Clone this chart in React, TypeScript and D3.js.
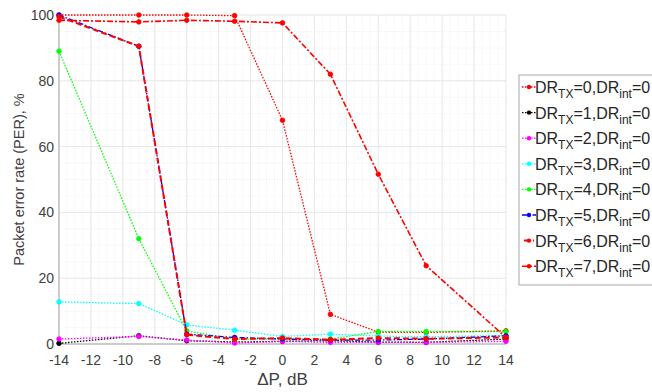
import React from "react"
import * as d3 from "d3"

const X_VALUES = [-14, -9, -6, -3, 0, 3, 6, 9, 14]
const X_TICKS = [-14, -12, -10, -8, -6, -4, -2, 0, 2, 4, 6, 8, 10, 12, 14]
const Y_TICKS = [0, 20, 40, 60, 80, 100]

const DR0 = [100, 100, 100, 99.8, 68, 9, 3.6, 3.5, 4]
const DR1 = [0.2, 2.5, 1, 0.6, 0.8, 1, 0.6, 0.5, 1.5]
const DR2 = [1.5, 2.3, 1.2, 0.3, 0.8, 0.5, 0.5, 0.5, 0.8]
const DR3 = [12.8, 12.3, 5.8, 4.2, 2.3, 3, 2.4, 2.2, 2.6]
const DR4 = [89, 32, 4, 1.5, 1.5, 1.5, 3.8, 3.8, 3.8]
const DR5 = [100, 90.5, 3, 2, 1.5, 1.2, 1.2, 1.5, 2.5]
const DR6 = [99.5, 90.5, 2.8, 1.5, 1.8, 1.3, 1.8, 1.6, 2]
const DR7 = [98.4, 97.9, 98.4, 98.1, 97.6, 82, 51.6, 23.8, 2]

const SERIES = [
  { tx: 0, values: DR0, color: "#ff0000", dash: "1.5,1.5", width: 1.3, legLen: 16 },
  { tx: 1, values: DR1, color: "#000000", dash: "1.5,1.5", width: 1.3, legLen: 16 },
  { tx: 2, values: DR2, color: "#ff00ff", dash: "1.5,1.5", width: 1.3, legLen: 16 },
  { tx: 3, values: DR3, color: "#00ffff", dash: "1.5,1.5", width: 1.3, legLen: 16 },
  { tx: 4, values: DR4, color: "#00ff00", dash: "1.5,1.5", width: 1.3, legLen: 16 },
  { tx: 5, values: DR5, color: "#0000ff", dash: "5,2,1.5,2", width: 1.3, legLen: 16 },
  { tx: 6, values: DR6, color: "#ff0000", dash: "6,3", width: 2, legLen: 12 },
  { tx: 7, values: DR7, color: "#ff0000", dash: "6,2,2,2", width: 1.6, legLen: 16 },
]

const M = { left: 59, right: 146, top: 15, bottom: 48 }
const W = 652
const H = 392

export default function App() {
  const x = d3.scaleLinear().domain([-14, 14]).range([M.left, W - M.right])
  const y = d3.scaleLinear().domain([0, 100]).range([H - M.bottom, M.top])
  const minorX = d3.range(-14, 14.01, 0.5)
  const minorY = d3.range(0, 100.01, 5)
  const font = "Helvetica, Arial, 'Liberation Sans', sans-serif"

  const line = d3
    .line<number>()
    .x((_, i) => x(X_VALUES[i]))
    .y((d) => y(d))

  const legX = 519
  const legY = 75
  const legRow = 25.6

  return (
    <svg width={W} height={H} style={{ position: "absolute", left: 0, top: 0, background: "#fff" }} fontFamily={font}>
      {/* minor grid */}
      {minorX.map((v) => (
        <line key={"mx" + v} x1={x(v)} x2={x(v)} y1={y(0)} y2={y(100)} stroke="#e6e6e6" strokeWidth={0.6} strokeDasharray="1,1.5" />
      ))}
      {minorY.map((v) => (
        <line key={"my" + v} y1={y(v)} y2={y(v)} x1={x(-14)} x2={x(14)} stroke="#e6e6e6" strokeWidth={0.6} strokeDasharray="1,1.5" />
      ))}
      {/* major grid */}
      {X_TICKS.map((v) => (
        <line key={"gx" + v} x1={x(v)} x2={x(v)} y1={y(0)} y2={y(100)} stroke="#e8e8e8" strokeWidth={1} />
      ))}
      {Y_TICKS.map((v) => (
        <line key={"gy" + v} y1={y(v)} y2={y(v)} x1={x(-14)} x2={x(14)} stroke="#e8e8e8" strokeWidth={1} />
      ))}
      {/* axes */}
      <line x1={x(-14)} x2={x(-14)} y1={y(0)} y2={y(100)} stroke="#a6a6a6" strokeWidth={1} />
      <line x1={x(-14)} x2={x(14)} y1={y(0)} y2={y(0)} stroke="#a6a6a6" strokeWidth={1} />
      {X_TICKS.map((v) => (
        <text key={"tx" + v} x={x(v)} y={y(0) + 21} textAnchor="middle" fontSize={14} fill="#404040">
          {v < 0 ? "-" + Math.abs(v) : v}
        </text>
      ))}
      {Y_TICKS.map((v) => (
        <text key={"ty" + v} x={x(-14) - 5} y={y(v) + 5} textAnchor="end" fontSize={14} fill="#404040">
          {v}
        </text>
      ))}
      <text x={(x(-14) + x(14)) / 2} y={385} textAnchor="middle" fontSize={17} fill="#404040">
        ΔP, dB
      </text>
      <text transform={`translate(24,${(y(0) + y(100)) / 2}) rotate(-90)`} textAnchor="middle" fontSize={14.5} fill="#404040">
        Packet error rate (PER), %
      </text>
      {/* series */}
      {SERIES.map((s) => (
        <g key={"s" + s.tx}>
          <path d={line(s.values) ?? ""} fill="none" stroke={s.color} strokeWidth={s.width} strokeDasharray={s.dash} />
          {s.values.map((v, i) => (
            <circle key={i} cx={x(X_VALUES[i])} cy={y(v)} r={2.3} fill={s.color} stroke={s.color} strokeWidth={0.8} />
          ))}
        </g>
      ))}
      {/* legend */}
      <rect x={legX} y={legY} width={W - legX + 10} height={210} fill="#fff" stroke="#a6a6a6" strokeWidth={1} />
      {SERIES.map((s, i) => {
        const cy = legY + 12 + i * legRow
        const cx = legX + 10
        return (
          <g key={"l" + s.tx}>
            <line x1={cx - s.legLen / 2 + 1} x2={cx + s.legLen / 2 - 1} y1={cy} y2={cy} stroke={s.color} strokeWidth={s.width} strokeDasharray={s.dash} />
            <circle cx={cx} cy={cy} r={2.2} fill={s.color} />
            <text x={legX + 16} y={cy + 6} fontSize={16} fill="#262626">
              DR<tspan fontSize={12} dy={5}>TX</tspan>
              <tspan dy={-5}>={s.tx},DR</tspan>
              <tspan fontSize={12} dy={5}>int</tspan>
              <tspan dy={-5}>=0</tspan>
            </text>
          </g>
        )
      })}
    </svg>
  )
}
